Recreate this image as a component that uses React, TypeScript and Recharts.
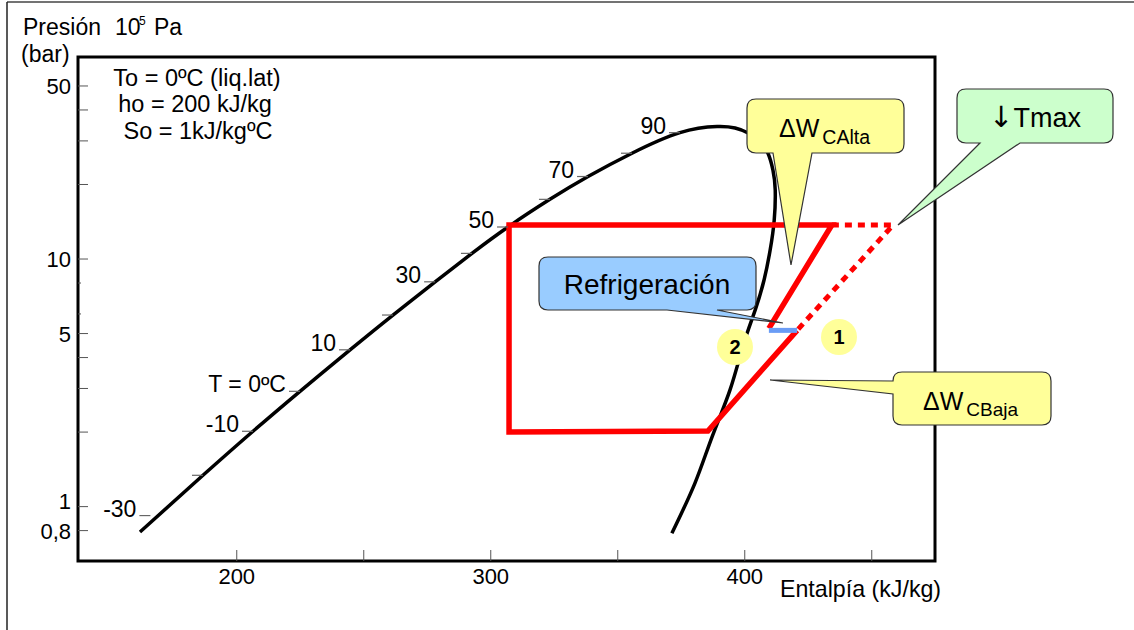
import { ComposedChart, Line, XAxis, YAxis, ReferenceArea } from "recharts";

const FONT = '"Liberation Sans", Arial, Helvetica, sans-serif';

// saturation dome: liquid line, top, vapour line (h in kJ/kg, p in bar)
const DOME_H = [
  161.9, 186.7, 206.4, 224.9, 244.6, 261.5, 278.1, 292.6, 306.8, 323.3, 338.3,
  355.6, 374.5, 389.1, 396.2, 401.3, 406.0, 409.1, 411.1, 412.0, 411.6,
  410.0, 407.6, 404.1, 399.4, 394.2, 387.1, 380.4, 371.3,
];
const DOME_P = [
  0.79, 1.338, 2.015, 2.922, 4.298, 5.94, 8.09, 10.54, 13.47, 17.42, 21.54,
  26.75, 32.39, 34.28, 33.81, 32.28, 29.7, 26.8, 22.88, 19.0, 14.37,
  10.87, 8.23, 6.22, 4.49, 2.96, 1.91, 1.245, 0.78,
];

// temperature marks on the liquid line
const TEMP_H = [166, 186.7, 206.4, 224.9, 244.6, 261.5, 278.1, 292.6, 306.8, 323.3, 338.3, 355.6, 374.5];
const TEMP_P = [0.92, 1.338, 2.015, 2.922, 4.298, 5.94, 8.09, 10.54, 13.47, 17.42, 21.54, 26.75, 32.39];
const TEMP_LABELS = ["-30", "", "-10", "T = 0ºC", "10", "", "30", "", "50", "", "70", "", "90"];

// refrigeration cycle
const CYCLE_H = [409.5, 434.3, 307.2, 307.2, 385.5, 420.6];
const CYCLE_P = [5.25, 13.72, 13.72, 2.0, 2.02, 5.15];
const SINGLE_H = [434.3, 458.4, 420.6];
const SINGLE_P = [13.72, 13.72, 5.15];
const REFRIG_H = [409.5, 420.6];
const REFRIG_P = [5.15, 5.15];

const X_TICKS = [200, 250, 300, 350, 400, 450];
const X_LABELS = ["200", "", "300", "", "400", ""];
const Y_TICKS = [0.8, 1, 2, 3, 4, 5, 6, 8, 10, 20, 30, 40, 50];
const Y_LABELS = ["0,8", "1", "", "", "", "5", "", "", "10", "", "", "", "50"];
const Y_SHORT = [6, 8];

const X_DOMAIN = [137.5, 474.9];
const Y_DOMAIN = [0.603, 65.46];

const pts = (h: number[], p: number[]) => h.map((v, i) => ({ h: v, p: p[i] }));

const XTick = ({ x, y, index }: any) => (
  <g>
    <line x1={x} x2={x} y1={y} y2={y - 11} stroke="#555" strokeWidth={1} />
    {X_LABELS[index] && (
      <text x={x} y={y + 23} textAnchor="middle" fontSize={22} fontFamily={FONT} fill="#000">
        {X_LABELS[index]}
      </text>
    )}
  </g>
);

const YTick = ({ x, y, payload }: any) => {
  const v = payload.value;
  const len = Y_SHORT.includes(v) ? 3 : 10;
  const label = Y_LABELS[Y_TICKS.indexOf(v)];
  return (
    <g>
      <line x1={x} x2={x + len} y1={y} y2={y} stroke="#555" strokeWidth={1} />
      {label && (
        <text x={x - 7} y={y + 8 + (v === 1 ? -6 : 0)} textAnchor="end" fontSize={22} fontFamily={FONT} fill="#000">
          {label}
        </text>
      )}
    </g>
  );
};

const TempMark = (props: any) => {
  const { cx, cy, index } = props;
  const label = TEMP_LABELS[index];
  return (
    <g>
      <line x1={cx - 11} x2={cx} y1={cy} y2={cy} stroke="#666" strokeWidth={1.2} />
      {label && (
        <text x={cx - 14} y={cy + 1} textAnchor="end" fontSize={23} fontFamily={FONT} fill="#000">
          {label}
        </text>
      )}
    </g>
  );
};

// speech-bubble outlines
function bubbleDown(x: number, y: number, w: number, h: number, r: number, p1: number, p2: number, tx: number, ty: number) {
  const b = y + h;
  return `M${x + r},${y} H${x + w - r} Q${x + w},${y} ${x + w},${y + r} V${b - r} Q${x + w},${b} ${x + w - r},${b} H${p2} L${tx},${ty} L${p1},${b} H${x + r} Q${x},${b} ${x},${b - r} V${y + r} Q${x},${y} ${x + r},${y} Z`;
}
function bubbleLeft(x: number, y: number, w: number, h: number, r: number, q1: number, q2: number, tx: number, ty: number) {
  const b = y + h;
  return `M${x + r},${y} H${x + w - r} Q${x + w},${y} ${x + w},${y + r} V${b - r} Q${x + w},${b} ${x + w - r},${b} H${x + r} Q${x},${b} ${x},${b - r} V${q2} L${tx},${ty} L${x},${q1} V${y + r} Q${x},${y} ${x + r},${y} Z`;
}

const Overlay = () => (
  <svg width={1134} height={630} style={{ position: "absolute", left: 0, top: 0, pointerEvents: "none" }} fontFamily={FONT}>
    <line x1={7} y1={2} x2={1134} y2={2} stroke="#444" strokeWidth={1.5} />
    <line x1={7} y1={2} x2={7} y2={630} stroke="#222" strokeWidth={1.5} />

    <text x={23} y={35} fontSize={23}>Presión</text>
    <text x={115} y={35} fontSize={23}>10</text>
    <text x={139} y={25} fontSize={12}>5</text>
    <text x={154} y={35} fontSize={23}>Pa</text>
    <text x={21} y={62} fontSize={23}>(bar)</text>

    <text x={197} y={86} fontSize={23.5} textAnchor="middle">To = 0ºC (liq.lat)</text>
    <text x={195} y={112} fontSize={23.5} textAnchor="middle">ho = 200 kJ/kg</text>
    <text x={198} y={139} fontSize={23.5} textAnchor="middle">So = 1kJ/kgºC</text>

    <text x={780} y={597} fontSize={23.2}>Entalpía (kJ/kg)</text>

    <path d={bubbleDown(747, 99, 157, 54, 9, 773, 812, 791, 265)} fill="#ffff99" stroke="#333" strokeWidth={1.2} />
    <text x={779} y={137} fontSize={25}>
      ΔW<tspan fontSize={19.5} dx={3} dy={7}>CAlta</tspan>
    </text>

    <path d={bubbleDown(957, 89, 156, 54, 9, 980, 1020, 898, 225)} fill="#ccffcc" stroke="#333" strokeWidth={1.2} />
    <text x={1035} y={127} fontSize={27} textAnchor="middle">
      <tspan fontFamily="DejaVu Sans" fontSize={29}>↓</tspan>Tmax
    </text>

    <path d={bubbleDown(539, 257, 217, 53, 9, 667, 717, 783, 323)} fill="#99ccff" stroke="#333" strokeWidth={1.2} />
    <text x={647} y={294} fontSize={28} textAnchor="middle">Refrigeración</text>

    <path d={bubbleLeft(893, 372, 158, 53, 9, 381, 394, 770, 380)} fill="#ffff99" stroke="#333" strokeWidth={1.2} />
    <text x={923} y={410} fontSize={25}>
      ΔW<tspan fontSize={19} dx={3} dy={6}>CBaja</tspan>
    </text>

    <circle cx={839} cy={337} r={18} fill="#ffff99" />
    <text x={839} y={344} fontSize={20} fontWeight="bold" textAnchor="middle">1</text>
    <circle cx={735} cy={347} r={18} fill="#ffff99" />
    <text x={735} y={354} fontSize={20} fontWeight="bold" textAnchor="middle">2</text>
  </svg>
);

export default function App() {
  return (
    <div style={{ position: "absolute", left: 0, top: 0, width: 1134, height: 630, background: "#fff", fontFamily: FONT }}>
      <ComposedChart width={1134} height={630} margin={{ top: 57, right: 199, bottom: 39, left: 18 }}>
        <XAxis
          type="number"
          dataKey="h"
          domain={X_DOMAIN}
          ticks={X_TICKS}
          interval={0}
          allowDataOverflow
          axisLine={false}
          tickLine={false}
          tickSize={0}
          tickMargin={0}
          height={30}
          tick={<XTick />}
        />
        <YAxis
          type="number"
          dataKey="p"
          scale="log"
          domain={Y_DOMAIN}
          ticks={Y_TICKS}
          interval={0}
          allowDataOverflow
          axisLine={false}
          tickLine={false}
          tickSize={0}
          tickMargin={0}
          width={60}
          tick={<YTick />}
        />
        <ReferenceArea
          x1={X_DOMAIN[0]}
          x2={X_DOMAIN[1]}
          y1={Y_DOMAIN[0]}
          y2={Y_DOMAIN[1]}
          fill="none"
          fillOpacity={0}
          stroke="#000"
          strokeWidth={3}
          ifOverflow="visible"
        />
        <Line data={pts(DOME_H, DOME_P)} dataKey="p" type="natural" stroke="#000" strokeWidth={3.5} dot={false} activeDot={false} isAnimationActive={false} />
        <Line data={pts(TEMP_H, TEMP_P)} dataKey="p" stroke="none" dot={(props: any) => <TempMark {...props} key={"m" + props.index} />} activeDot={false} isAnimationActive={false} />
        <Line data={pts(SINGLE_H, SINGLE_P)} dataKey="p" type="linear" stroke="#ff0000" strokeWidth={5} strokeDasharray="7 6" dot={false} activeDot={false} isAnimationActive={false} />
        <Line data={pts(CYCLE_H, CYCLE_P)} dataKey="p" type="linear" stroke="#ff0000" strokeWidth={5.5} strokeLinejoin="miter" dot={false} activeDot={false} isAnimationActive={false} />
        <Line data={pts(REFRIG_H, REFRIG_P)} dataKey="p" type="linear" stroke="#6a9cf5" strokeWidth={5} dot={false} activeDot={false} isAnimationActive={false} />
      </ComposedChart>
      <Overlay />
    </div>
  );
}
